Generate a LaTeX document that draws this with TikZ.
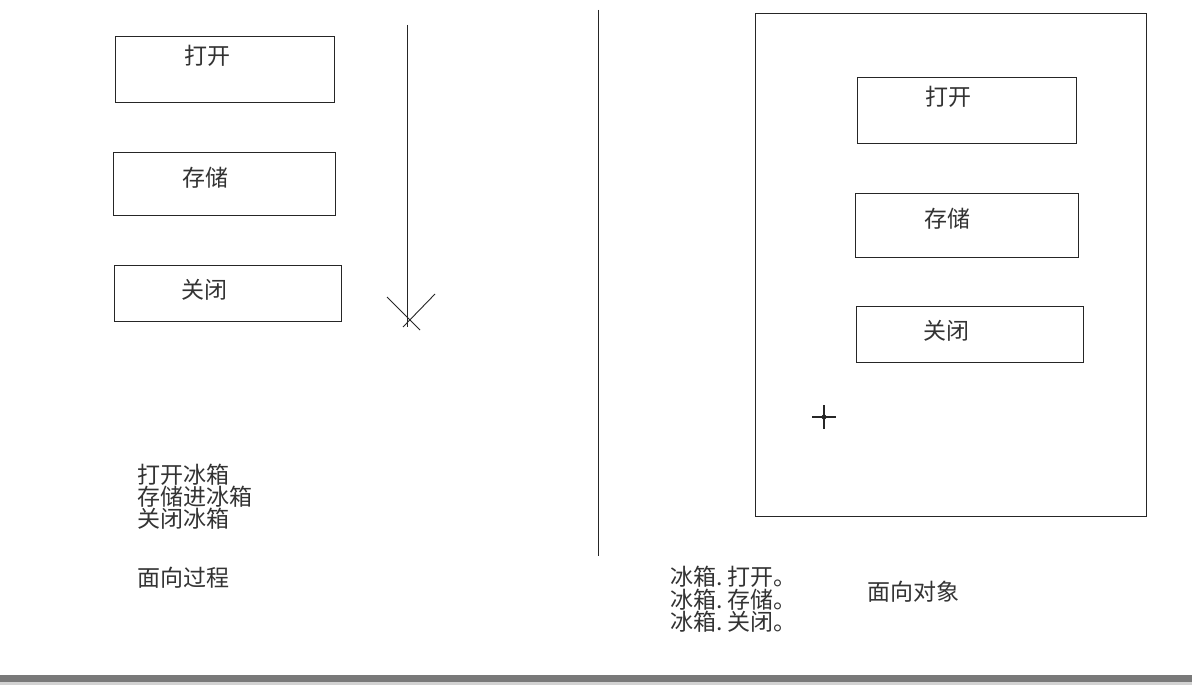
\documentclass[tikz,border=0pt]{standalone}
\usepackage{fontspec}
\setmainfont{Noto Sans CJK SC}
\tikzset{
  box/.style={draw,rectangle,inner sep=0pt},
  txt/.style={inner sep=0pt,anchor=west},
  lbl/.style={inner sep=0pt}
}
\begin{document}
\begin{tikzpicture}[x=1pt,y=-1pt,line width=.9pt,draw=black!85,text=black!80,
  font=\fontsize{23}{24}\selectfont]
  \useasboundingbox[fill=white] (0,0) rectangle (1192,685);
  % screen bar at the bottom
  \fill[gray!95!black] (0,675) rectangle (1192,682);
  \fill[gray!35] (0,682) rectangle (1192,685);
  % procedure side
  \node[box,minimum width=219,minimum height=66] (popen) at (224.5,69) {};
  \node[box,minimum width=222,minimum height=63] (pstore) at (224,183.5) {};
  \node[box,minimum width=227,minimum height=56] (pclose) at (227.5,293) {};
  \node[lbl] (popenl) at (207,56) {打开};
  \node[lbl] (pstorel) at (205,178) {存储};
  \node[lbl] (pclosel) at (204,290) {关闭};
  \coordinate (flowtop) at (407,25);
  \coordinate (flowend) at (407,327);
  \draw (flowtop)--(flowend);
  \draw (387,297)--(420,330);
  \draw (435,294)--(403,327);
  \node[txt] (step1) at (137,475) {打开冰箱};
  \node[txt] (step2) at (137,497) {存储进冰箱};
  \node[txt] (step3) at (137,519) {关闭冰箱};
  \node[txt] (ptitle) at (137,578) {面向过程};
  % divider
  \coordinate (divtop) at (598,10);
  \coordinate (divbot) at (598,556);
  \draw (divtop)--(divbot);
  % object side
  \node[box,minimum width=391,minimum height=503] (fridge) at (950.5,264.5) {};
  \node[box,minimum width=219,minimum height=66] (oopen) at (966.5,110) {};
  \node[box,minimum width=223,minimum height=64] (ostore) at (966.5,225) {};
  \node[box,minimum width=227,minimum height=56] (oclose) at (969.5,334) {};
  \node[lbl] (oopenl) at (948,97) {打开};
  \node[lbl] (ostorel) at (947,219) {存储};
  \node[lbl] (oclosel) at (946,331) {关闭};
  \node[txt] (call1) at (670,577) {冰箱.\ 打开。};
  \node[txt] (call2) at (670,600) {冰箱.\ 存储。};
  \node[txt] (call3) at (670,622) {冰箱.\ 关闭。};
  \node[txt] (otitle) at (867,592) {面向对象};
  % cursor
  \draw[line width=1.2pt] (812,417)--(836,417);
  \draw[line width=1.2pt] (824,405)--(824,429);
  \draw[line width=.8pt] (824,417) circle (2);
\end{tikzpicture}
\end{document}
